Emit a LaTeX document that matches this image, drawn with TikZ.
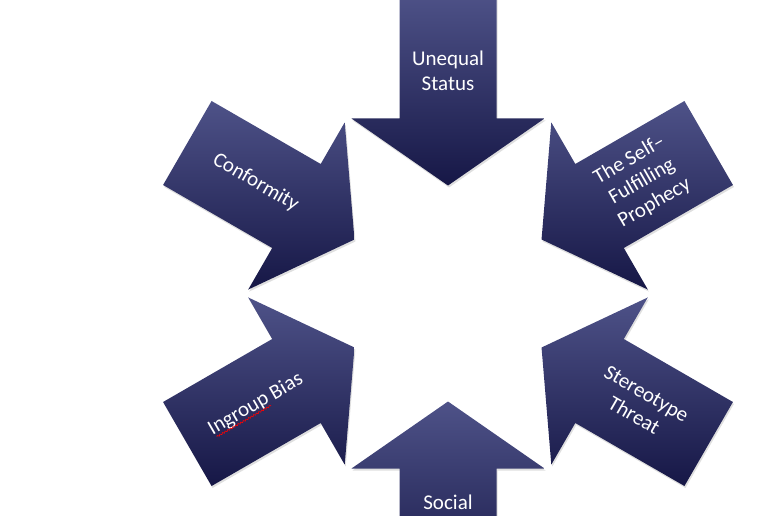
\documentclass[tikz,border=0pt]{standalone}
\usepackage{fontspec}
\setmainfont{Carlito}
\usetikzlibrary{calc,shadows,decorations.pathmorphing}
\definecolor{navytop}{RGB}{78,82,136}
\definecolor{navybot}{RGB}{22,23,70}

\begin{document}
\begin{tikzpicture}[x=1pt, y=1pt,
  convarrow/.style={top color=navytop, bottom color=navybot, draw=none,
    drop shadow={shadow xshift=1pt, shadow yshift=-2pt, opacity=0.25}},
  lbl/.style={text=white, inner sep=0pt, align=center, font=\fontsize{21}{25}\selectfont},
  squig/.style={red, line width=0.6pt, decorate, decoration={snake, amplitude=0.8pt, segment length=3pt}}]

\useasboundingbox (0,0) rectangle (770,515);
\clip (0,0) rectangle (770,515);
\coordinate (c) at (448,221.5);

\foreach \a in {90,150,210,270,330,30}
  \path[convarrow] ($(c)+(\a:108pt)$)
    -- ($(c)+(\a:175pt)+(\a+90:96.5pt)$)
    -- ($(c)+(\a:175pt)+(\a+90:48.5pt)$)
    -- ($(c)+(\a:301pt)+(\a+90:48.5pt)$)
    -- ($(c)+(\a:301pt)+(\a-90:48.5pt)$)
    -- ($(c)+(\a:175pt)+(\a-90:48.5pt)$)
    -- ($(c)+(\a:175pt)+(\a-90:96.5pt)$) -- cycle;

% -------- Labels -----------
\node[lbl] (us) at ($(c)+(90:223pt)$) {Unequal\\Status};
\node[lbl, rotate=-30] (cf) at ($(c)+(150:222pt)$) {Conformity};
\node[lbl, rotate=30] (sf) at ($(c)+(30:224pt)$) {The Self–\\Fulfilling\\Prophecy};
\node[lbl, rotate=-30] (st) at ($(c)+(330:222pt)$) {Stereotype\\Threat};
\node[lbl, rotate=30] (ib) at ($(c)+(210:222pt)$) {Ingroup Bias};
\node[lbl] (so) at ($(c)+(270:209pt)$) {Social};

\coordinate (sqa) at ($(ib.base west)!0.03!(ib.base east)$);
\coordinate (sqb) at ($(ib.base west)!0.62!(ib.base east)$);
\draw[squig] ($(sqa)!3pt!-90:(sqb)$) -- ($(sqb)!3pt!90:(sqa)$);
\end{tikzpicture}
\end{document}
